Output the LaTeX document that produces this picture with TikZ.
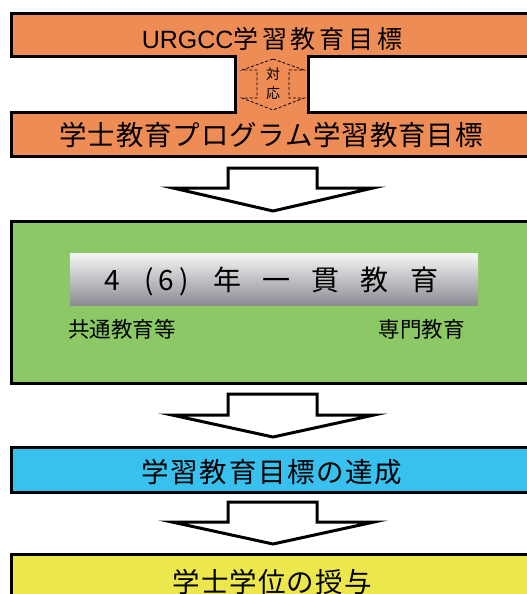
\documentclass[tikz,border=0pt]{standalone}
\usepackage{fontspec}
\setmainfont{Noto Sans CJK JP}
\newfontfamily\latf{Liberation Sans}
\definecolor{orangebox}{RGB}{238,140,86}
\definecolor{greenbox}{RGB}{140,200,102}
\definecolor{bluebox}{RGB}{56,192,238}
\definecolor{yellowbox}{RGB}{237,231,78}
\definecolor{bartop}{RGB}{246,246,246}
\definecolor{barbot}{RGB}{140,140,148}
\newcommand\fs[1]{\fontsize{#1}{#1}\selectfont}
\newcommand\ls[1]{\addfontfeature{LetterSpace=#1}}
\newcommand\zc[1]{\makebox[0pt]{#1}}
\tikzset{
  boxline/.style={draw=black, line width=3pt},
  blockarrow/.style={draw=black, fill=white, line width=3pt, line join=miter},
  dasharrow/.style={draw=black, line width=0.8pt, dash pattern=on 3pt off 2pt},
  lbl/.style={inner sep=0pt, text=black}
}
\begin{document}
\begin{tikzpicture}[x=1pt,y=-1pt]
\useasboundingbox (0,0) rectangle (527,594);
\begin{scope}
\clip (0,0) rectangle (527,594);
% orange combined shape
\draw[boxline, fill=orangebox]
  (11,14) -- (545,14) -- (545,57) -- (308,57) -- (308,112) -- (545,112) -- (545,156)
  -- (11,156) -- (11,112) -- (235,112) -- (235,57) -- (11,57) -- cycle;
% dashed double arrow
\draw[dasharrow] (273,59) -- (304,70) -- (289,70) -- (289,98) -- (304,98) -- (273,110)
  -- (242,98) -- (257,98) -- (257,70) -- (242,70) -- cycle;
\node[lbl] (taiou) at (273,84) {\fs{14}\shortstack[c]{対\\[3pt]応}};
% texts
\node[lbl] (urgcc) at (272,39) {\fs{25}\ls{15}{\latf URGCC}学習教育目標};
\node[lbl] (prog) at (271,135.5) {\fs{27.5}\ls{3}学士教育プログラム学習教育目標};
% arrow 1
\draw[blockarrow] (228,168) -- (317,168) -- (317,188) -- (373,188) -- (273,211)
  -- (173,188) -- (228,188) -- cycle;
% green box
\draw[boxline, fill=greenbox] (11,221) rectangle (545,383);
\shade[top color=bartop, bottom color=barbot] (70,253) rectangle (478,305);
\node[lbl] (ikkan) at (268.5,281) {\fs{28}%
  \zc{4}\hspace{36.5pt}\zc{(}\hspace{18pt}\zc{6}\hspace{17pt}\zc{)}\hspace{44pt}%
  \zc{年}\hspace{49pt}\zc{一}\hspace{49pt}\zc{貫}\hspace{49pt}\zc{教}\hspace{50pt}\zc{育}};
\node[lbl, anchor=west] (kyotsu) at (68,329) {\fs{21.5}共通教育等};
\node[lbl, anchor=east] (senmon) at (465,329) {\fs{21.5}専門教育};
% arrow 2
\draw[blockarrow] (228,394) -- (317,394) -- (317,415) -- (374,415) -- (273,437)
  -- (172,415) -- (228,415) -- cycle;
% blue box
\draw[boxline, fill=bluebox] (11,447) rectangle (545,492);
\node[lbl] (tassei) at (272,472.5) {\fs{27.5}\ls{6}学習教育目標の達成};
% arrow 3
\draw[blockarrow] (228,502) -- (317,502) -- (317,522) -- (374,522) -- (273,544)
  -- (172,522) -- (228,522) -- cycle;
% yellow box
\draw[boxline, fill=yellowbox] (11,554) rectangle (545,620);
\node[lbl] (juyo) at (272,582) {\fs{27.5}\ls{4}学士学位の授与};
\end{scope}
\end{tikzpicture}
\end{document}
